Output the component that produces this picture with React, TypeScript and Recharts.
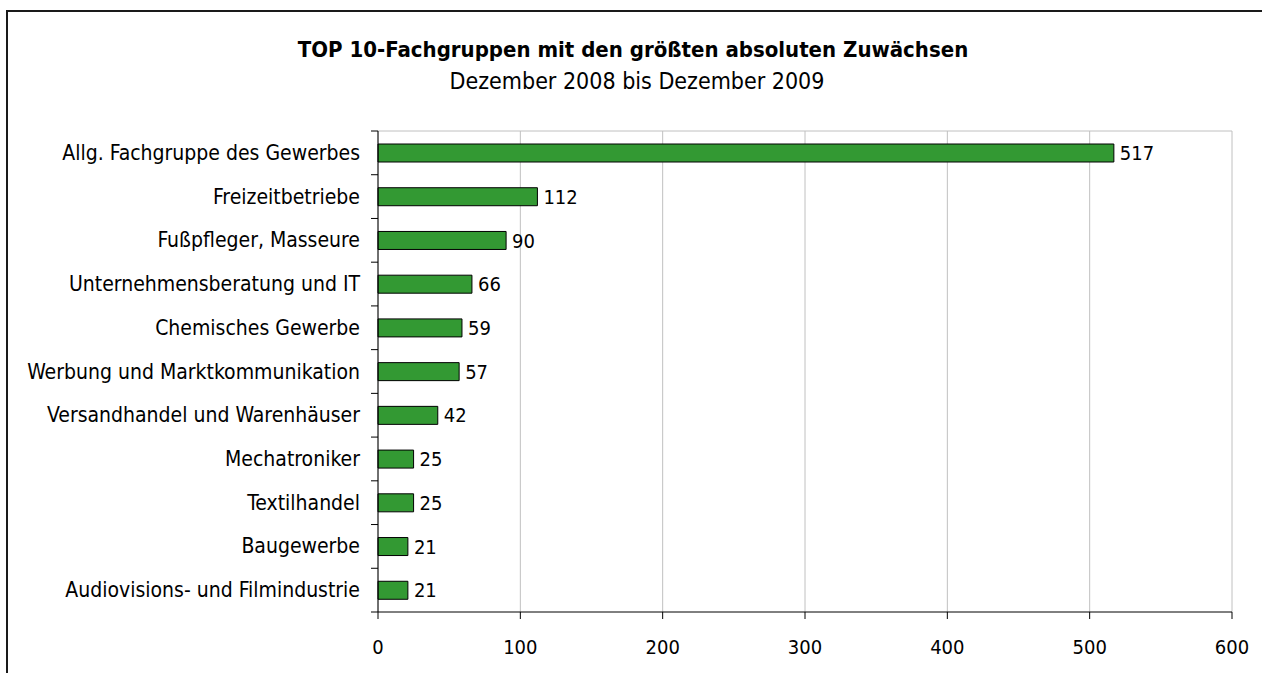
import React from "react";
import {
  BarChart,
  Bar,
  XAxis,
  YAxis,
  CartesianGrid,
  LabelList,
} from "recharts";

const categories: string[] = [
  "Allg. Fachgruppe des Gewerbes",
  "Freizeitbetriebe",
  "Fußpfleger, Masseure",
  "Unternehmensberatung und IT",
  "Chemisches Gewerbe",
  "Werbung und Marktkommunikation",
  "Versandhandel und Warenhäuser",
  "Mechatroniker",
  "Textilhandel",
  "Baugewerbe",
  "Audiovisions- und Filmindustrie",
];

const values: number[] = [517, 112, 90, 66, 59, 57, 42, 25, 25, 21, 21];

const xTicks: number[] = [0, 100, 200, 300, 400, 500, 600];

const titleText = "TOP 10-Fachgruppen mit den größten absoluten Zuwächsen";
const subtitleText = "Dezember 2008 bis Dezember 2009";

const data = categories.map((name, i) => ({ name, value: values[i] }));

const FONT = "'DejaVu Sans Condensed', 'DejaVu Sans', sans-serif";
const W = 1262;
const H = 673;
const MARGIN = { top: 131, right: 30, bottom: 21, left: 0 };
const Y_AXIS_W = 378;
const X_AXIS_H = 40;
const PLOT_H = H - MARGIN.top - MARGIN.bottom - X_AXIS_H;
const BAND = PLOT_H / categories.length;
const Y_TICK_SIZE = 7;
const Y_TICK_MARGIN = 11;

const YTick = (props: any) => {
  const { x, y, payload, index } = props;
  const axisX = x + Y_TICK_SIZE + Y_TICK_MARGIN;
  return (
    <g>
      <line
        x1={axisX - Y_TICK_SIZE}
        x2={axisX}
        y1={y - BAND / 2}
        y2={y - BAND / 2}
        stroke="#000"
        strokeWidth={1}
      />
      {index === categories.length - 1 && (
        <line
          x1={axisX - Y_TICK_SIZE}
          x2={axisX}
          y1={y + BAND / 2}
          y2={y + BAND / 2}
          stroke="#000"
          strokeWidth={1}
        />
      )}
      <text
        x={x}
        y={y}
        textAnchor="end"
        dominantBaseline="central"
        fontFamily={FONT}
        fontSize={21}
        fill="#000"
      >
        {payload.value}
      </text>
    </g>
  );
};

export default function App() {
  return (
    <div
      style={{
        position: "absolute",
        left: 0,
        top: 0,
        width: W,
        height: H,
        overflow: "hidden",
        background: "#fff",
        fontFamily: FONT,
      }}
    >
      <div
        style={{
          position: "absolute",
          left: 6,
          top: 10,
          width: W,
          height: H,
          borderLeft: "2px solid #1a1a1a",
          borderTop: "2px solid #1a1a1a",
        }}
      />
      <div style={{ position: "absolute", left: 0, top: 0 }}>
        <BarChart
          width={W}
          height={H}
          data={data}
          layout="vertical"
          margin={MARGIN}
        >
          <CartesianGrid
            stroke="#c0c0c0"
            vertical={true}
            horizontal={true}
            horizontalCoordinatesGenerator={({ offset }: any) => [offset.top]}
          />
          <XAxis
            type="number"
            domain={[0, 600]}
            ticks={xTicks}
            interval={0}
            height={X_AXIS_H}
            tickSize={7}
            tickMargin={21}
            axisLine={{ stroke: "#000" }}
            tickLine={{ stroke: "#000" }}
            tick={{ fill: "#000", fontSize: 20, fontFamily: FONT }}
          />
          <YAxis
            type="category"
            dataKey="name"
            width={Y_AXIS_W}
            interval={0}
            tickSize={Y_TICK_SIZE}
            tickMargin={Y_TICK_MARGIN}
            tickLine={false}
            axisLine={{ stroke: "#000" }}
            tick={<YTick />}
          />
          <Bar
            dataKey="value"
            fill="#339933"
            stroke="#000"
            strokeWidth={1}
            barSize={18}
            isAnimationActive={false}
          >
            <LabelList
              dataKey="value"
              position="right"
              offset={6}
              fill="#000"
              fontSize={20}
              fontFamily={FONT}
            />
          </Bar>
        </BarChart>
      </div>
      <svg
        width={W}
        height={H}
        style={{ position: "absolute", left: 0, top: 0, pointerEvents: "none" }}
      >
        <text
          x={633}
          y={56.5}
          textAnchor="middle"
          fontFamily={FONT}
          fontWeight="bold"
          fontSize={22}
          fill="#000"
        >
          {titleText}
        </text>
        <text
          x={637}
          y={89}
          textAnchor="middle"
          fontFamily={FONT}
          fontSize={23}
          fill="#000"
        >
          {subtitleText}
        </text>
      </svg>
    </div>
  );
}
